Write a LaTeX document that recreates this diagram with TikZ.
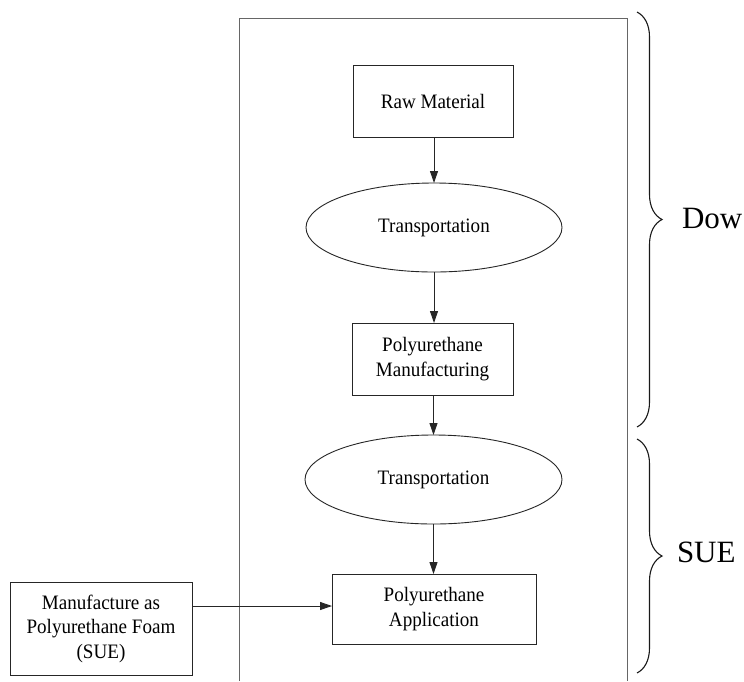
\documentclass[tikz,border=0pt]{standalone}
\usepackage{fontspec}
\setmainfont{Liberation Serif}
\newfontfamily\boxfont[FakeStretch=0.93]{Liberation Serif}
\usetikzlibrary{arrows.meta,shapes.geometric,decorations.pathreplacing}
\begin{document}
\begin{tikzpicture}[x=1pt,y=-1pt,
  every node/.style={inner sep=0pt,outer sep=0pt},
  procbox/.style={draw=black!85,line width=0.9pt,rectangle,align=center,
    font=\boxfont\fontsize{20.5}{24.5}\selectfont},
  transell/.style={draw=black!85,line width=0.9pt,ellipse,align=center,
    font=\boxfont\fontsize{20.5}{24.5}\selectfont},
  arr/.style={draw=black!85,line width=0.9pt,-{Triangle[length=12pt,width=8pt]}},
  frameline/.style={draw=black!60,line width=0.9pt},
  bracestyle/.style={draw=black!90,line width=1.1pt,decorate,
    decoration={brace,amplitude=25pt}},
  sidelabel/.style={font=\fontsize{31}{36}\selectfont,anchor=base west}]
\useasboundingbox (0,0) rectangle (744,681);
\fill[white] (0,0) rectangle (744,681);
% outer frame (open at bottom)
\coordinate (fbl) at (239,681);
\coordinate (ftl) at (239,18);
\coordinate (ftr) at (627,18);
\coordinate (fbr) at (627,681);
\draw[frameline] (fbl) -- (ftl) -- (ftr) -- (fbr);
% nodes
\node[procbox,minimum width=160pt,minimum height=72pt] (raw) at (433,101) {Raw Material};
\node[transell,minimum width=256pt,minimum height=89pt] (t1) at (434,227.5) {Transportation};
\node[procbox,minimum width=161pt,minimum height=72pt] (pm) at (432.5,359) {Polyurethane\\Manufacturing};
\node[transell,minimum width=257pt,minimum height=89pt] (t2) at (433.5,479.5) {Transportation};
\node[procbox,minimum width=204pt,minimum height=70pt] (pa) at (434,609) {Polyurethane\\Application};
\node[procbox,minimum width=182pt,minimum height=93pt] (mf) at (101,628.5) {Manufacture as\\Polyurethane Foam\\(SUE)};
% connectors
\draw[arr] (raw.south -| t1.north) -- (t1.north);
\draw[arr] (t1.south) -- (t1.south |- pm.north);
\draw[arr] (pm.south -| t2.north) -- (t2.north);
\draw[arr] (t2.south) -- (t2.south |- pa.north);
\draw[arr] ([yshift=3pt]mf.east |- pa.west) -- ([yshift=3pt]pa.west);
% braces
\coordinate (dowtop) at (637,12);
\coordinate (dowbot) at (637,427);
\coordinate (suetop) at (637,439);
\coordinate (suebot) at (637,673);
\draw[bracestyle] (dowtop) -- (dowbot);
\draw[bracestyle] (suetop) -- (suebot);
\node[sidelabel] (dow) at (682,228) {Dow};
\node[sidelabel] (sue) at (677,562) {SUE};
\end{tikzpicture}
\end{document}
